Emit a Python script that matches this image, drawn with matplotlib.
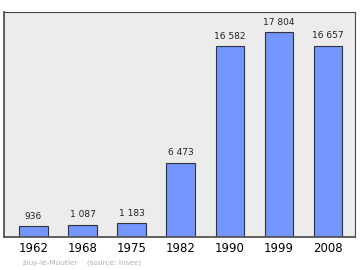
import matplotlib.pyplot as plt

years = ["1962", "1968", "1975", "1982", "1990", "1999", "2008"]
population = [936, 1087, 1183, 6473, 16582, 17804, 16657]
labels = ["936", "1 087", "1 183", "6 473", "16 582", "17 804", "16 657"]

fig = plt.figure(figsize=(3.6, 2.7), dpi=100)
ax = fig.add_axes([4 / 360, 1 - 237 / 270, 351 / 360, 225 / 270])
ax.set_facecolor("#ececec")

x = list(range(len(years)))
ax.bar(x, population, width=0.58, color="#7396ff", edgecolor="#333333", linewidth=0.8)
for xi, v, lab in zip(x, population, labels):
    ax.text(xi, v + 500, lab, ha="center", va="bottom", fontsize=6.5, color="#222222")

ax.set_xlim(-0.6, 6.55)
ax.set_ylim(0, max(population) * 1.1)
ax.set_yticks([])
ax.set_xticks(x)
ax.set_xticklabels(years, fontsize=8.5)
ax.tick_params(axis="x", length=0, pad=3.5)
for side in ["left", "bottom"]:
    ax.spines[side].set_color("#555555")
    ax.spines[side].set_linewidth(1.3)
for side in ["top", "right"]:
    ax.spines[side].set_color("#444444")
    ax.spines[side].set_linewidth(0.8)

fig.text(22 / 360, 1 - 263 / 270, "Jouy-le-Moutier    (source: Insee)",
         fontsize=5.3, color="#b0b0b0", va="center")

fig.savefig("out.png", dpi=100)
